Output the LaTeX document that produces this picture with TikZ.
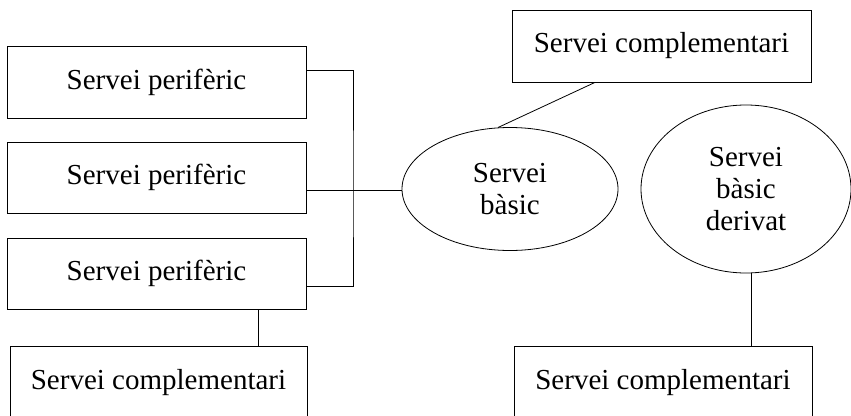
\documentclass[tikz,border=0pt]{standalone}
\usepackage{fontspec}
\setmainfont{Liberation Serif}
\usetikzlibrary{shapes.geometric}
\begin{document}
\begin{tikzpicture}[x=1pt,y=-1pt,
  every node/.style={inner sep=0pt, font=\fontsize{29}{32}\selectfont},
  box/.style={draw, line width=0.8pt, rectangle, minimum width=299pt, minimum height=72pt},
  oval/.style={draw, line width=0.8pt, ellipse, align=center},
  link/.style={draw, line width=0.8pt}]
  \useasboundingbox (0,0) rectangle (851,415);
  \clip (0,0) rectangle (851,415);

  % peripheral services
  \node[box] (p1) at (156.5,82) {Servei perifèric};
  \node[box, minimum height=71pt] (p2) at (156.5,177.5) {Servei perifèric};
  \node[box, minimum height=71pt] (p3) at (156.5,273.5) {Servei perifèric};

  % basic services
  \node[oval, minimum width=216pt, minimum height=123pt] (basic) at (510,189) {Servei\\bàsic};
  \node[oval, minimum width=210pt, minimum height=168pt] (deriv) at (746,189) {Servei\\bàsic\\derivat};

  % complementary services
  \node[box] (c1) at (661.5,46) {Servei complementari};
  \node[box, minimum width=297pt, minimum height=73pt] (c2) at (158.5,382.5) {Servei complementari};
  \node[box, minimum width=298pt, minimum height=73pt] (c3) at (663,382.5) {Servei complementari};

  % bracket joining the peripheral services
  \coordinate (bar) at (353,189);
  \draw[link] ([yshift=12pt]p1.east) -| (bar) |- ([yshift=-12.5pt]p3.east);
  \draw[link] ([yshift=-12.5pt]p2.east) -- ([yshift=-12.5pt]p2.east -| basic.west);

  % links to complementary services
  \draw[link] ([xshift=-66.5pt]c1.south) -- (basic.101);
  \draw[link] ([xshift=101.5pt]p3.south) -- ([xshift=101.5pt]p3.south |- c2.north);
  \draw[link] (deriv.-86) -- (deriv.-86 |- c3.north);
\end{tikzpicture}
\end{document}
